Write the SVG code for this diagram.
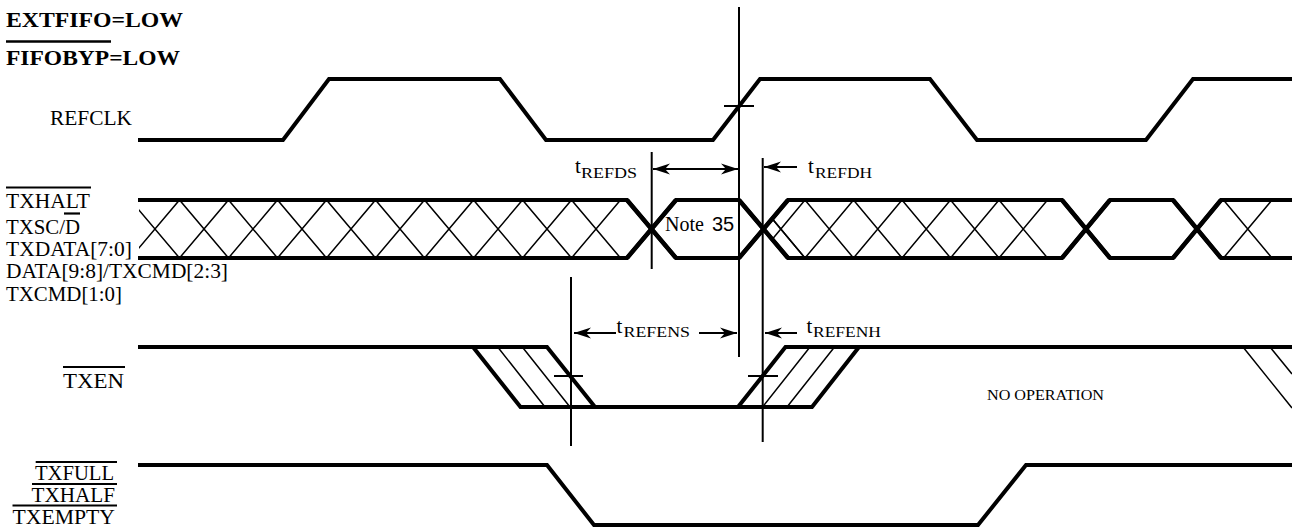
<svg xmlns="http://www.w3.org/2000/svg" width="1292" height="529" viewBox="0 0 1292 529">
<style>
.w{fill:none;stroke:#000;stroke-width:4;stroke-linejoin:miter;stroke-miterlimit:3}
.x{fill:none;stroke:#000;stroke-width:4.5}
.h{fill:none;stroke:#000;stroke-width:1.5}
.v{fill:none;stroke:#000;stroke-width:2}
.ov{fill:none;stroke:#000;stroke-width:2.2}
.a{fill:none;stroke:#000;stroke-width:2}
.t{font-family:"Liberation Serif","Times New Roman",serif;font-size:21px;fill:#000}
.b{font-weight:bold;font-size:20px}
.s{font-family:"Liberation Serif","Times New Roman",serif;font-size:14px;fill:#000}
.ss{font-family:"Liberation Sans",Arial,sans-serif;font-size:20px;fill:#000}
</style>
<defs>
<marker id="ah" markerUnits="userSpaceOnUse" viewBox="-17 -6 18 12" markerWidth="18" markerHeight="12" refX="0" refY="0" orient="auto-start-reverse">
<path d="M0,0 L-17,-5.5 L-12,0 L-17,5.5 Z" fill="#000"/>
</marker>
<clipPath id="cl1"><rect x="139" y="198" width="500" height="62"/></clipPath>
<clipPath id="cl2"><polygon points="763.5,229 788,200 1058,200 1058,258 788,258"/></clipPath>
</defs>
<rect width="1292" height="529" fill="#fff"/>

<g id="header">
<text class="t b" x="6" y="26.5" textLength="177" lengthAdjust="spacingAndGlyphs">EXTFIFO=LOW</text>
<line class="ov" x1="6" y1="41.5" x2="111" y2="41.5" style="stroke-width:2.7"/>
<text class="t b" x="6" y="65" textLength="174" lengthAdjust="spacingAndGlyphs">FIFOBYP=LOW</text>
</g>

<g id="refclk">
<text class="t" x="50" y="125" textLength="82" lengthAdjust="spacingAndGlyphs">REFCLK</text>
<path class="w" d="M138,140 H283 L329,79 H500 L546,140 H713 L760,79 H930 L977,140 H1146 L1193,79 H1292"/>
</g>

<g id="bus">
<text class="t" x="6" y="207.5" textLength="84" lengthAdjust="spacingAndGlyphs">TXHALT</text>
<line class="ov" x1="6" y1="187.5" x2="91" y2="187.5"/>
<text class="t" x="6" y="234" textLength="74" lengthAdjust="spacingAndGlyphs">TXSC/D</text>
<line class="ov" x1="64" y1="213.5" x2="80" y2="213.5"/>
<text class="t" x="6" y="256" textLength="126" lengthAdjust="spacingAndGlyphs">TXDATA[7:0]</text>
<text class="t" x="6" y="277.5" textLength="222" lengthAdjust="spacingAndGlyphs">DATA[9:8]/TXCMD[2:3]</text>
<text class="t" x="6" y="300.5" textLength="116" lengthAdjust="spacingAndGlyphs">TXCMD[1:0]</text>
<path class="w" d="M138,200 H627 L676,258 H739 L788,200 H1062 L1110,258 H1173 L1221,200 H1292"/>
<path class="w" d="M138,258 H627 L676,200 H739 L788,258 H1062 L1110,200 H1173 L1221,258 H1292"/>
<path class="x" d="M627,200 L676,258 M627,258 L676,200 M739,200 L788,258 M739,258 L788,200 M1062,200 L1110,258 M1062,258 L1110,200 M1173,200 L1221,258 M1173,258 L1221,200"/>
<g clip-path="url(#cl1)">
<path class="h" d="M130.5,200 L179.5,258 L228.5,200 L277.5,258 L326.5,200 L375.5,258 L424.5,200 L473.5,258 L522.5,200 L571.5,258 L620.5,200"/>
<path class="h" d="M130.5,258 L179.5,200 L228.5,258 L277.5,200 L326.5,258 L375.5,200 L424.5,258 L473.5,200 L522.5,258 L571.5,200 L620.5,258"/>
</g>
<g clip-path="url(#cl2)">
<path class="h" d="M805,200 L853.5,258 L902,200 L950.5,258 L999,200 L1047.5,258 M756.5,200 L805,258 L853.5,200 L902,258 L950.5,200 L999,258 L1047.5,200"/>
<path class="h" d="M805,200 L770,241.9 M805,258 L770,216.1"/>
</g>
<path class="h" d="M1223.5,200 L1272,258 M1272,200 L1223.5,258"/>
<text class="t" x="665" y="231" style="font-size:20px">Note</text>
<text class="ss" x="712" y="231">35</text>
</g>

<g id="txen">
<text class="t" x="63" y="388" textLength="61" lengthAdjust="spacingAndGlyphs">TXEN</text>
<line class="ov" x1="63" y1="367" x2="125" y2="367"/>
<path class="w" d="M138,347 H547 L595,407"/>
<path class="w" d="M473,347 L520.5,407 H812 L859,347"/>
<path class="w" d="M738,407 L785.5,347 H1292"/>
<path class="h" d="M497.7,347 L545,407 M522.3,347 L570,407 M762.5,407 L810,347 M787,407 L834.5,347 M1243,347 L1292,408 M1270,347 L1292,374"/>
<text class="t" x="987" y="400" style="font-size:15px" textLength="117" lengthAdjust="spacingAndGlyphs">NO OPERATION</text>
</g>

<g id="txfull">
<text class="t" x="35" y="480" textLength="79" lengthAdjust="spacingAndGlyphs">TXFULL</text>
<line class="ov" x1="35.7" y1="462" x2="117" y2="462"/>
<text class="t" x="31.5" y="502" textLength="83.5" lengthAdjust="spacingAndGlyphs">TXHALF</text>
<line class="ov" x1="32" y1="484" x2="117" y2="484"/>
<text class="t" x="12.5" y="523.5" textLength="102.5" lengthAdjust="spacingAndGlyphs">TXEMPTY</text>
<line class="ov" x1="12.5" y1="505.5" x2="117" y2="505.5"/>
<path class="w" d="M138,465 H547 L594,525 H978 L1026,465 H1292"/>
</g>

<g id="connectors">
<line class="v" x1="739" y1="7" x2="739" y2="357"/>
<line class="v" x1="651.7" y1="152" x2="651.7" y2="269"/>
<line class="v" x1="762.7" y1="158" x2="762.7" y2="442"/>
<line class="v" x1="571" y1="277" x2="571" y2="446"/>
<line class="v" x1="724" y1="106" x2="754" y2="106"/>
<line class="v" x1="554" y1="376" x2="583" y2="376"/>
<line class="v" x1="748" y1="376" x2="778" y2="376"/>
<line class="a" x1="653" y1="169" x2="738" y2="169" marker-start="url(#ah)" marker-end="url(#ah)"/>
<line class="a" x1="797" y1="167" x2="764" y2="167" marker-end="url(#ah)"/>
<line class="a" x1="616" y1="333" x2="574" y2="333" marker-end="url(#ah)"/>
<line class="a" x1="699" y1="333" x2="737" y2="333" marker-end="url(#ah)"/>
<line class="a" x1="797" y1="333" x2="765" y2="333" marker-end="url(#ah)"/>
<text class="t" x="575" y="173">t</text>
<text class="s" x="581" y="178" textLength="56" lengthAdjust="spacingAndGlyphs">REFDS</text>
<text class="t" x="808" y="173">t</text>
<text class="s" x="815" y="178" textLength="57" lengthAdjust="spacingAndGlyphs">REFDH</text>
<text class="t" x="616.5" y="333">t</text>
<text class="s" x="623.5" y="336.7" textLength="66.5" lengthAdjust="spacingAndGlyphs">REFENS</text>
<text class="t" x="806.5" y="333">t</text>
<text class="s" x="813" y="336.7" textLength="68" lengthAdjust="spacingAndGlyphs">REFENH</text>
</g>
</svg>
